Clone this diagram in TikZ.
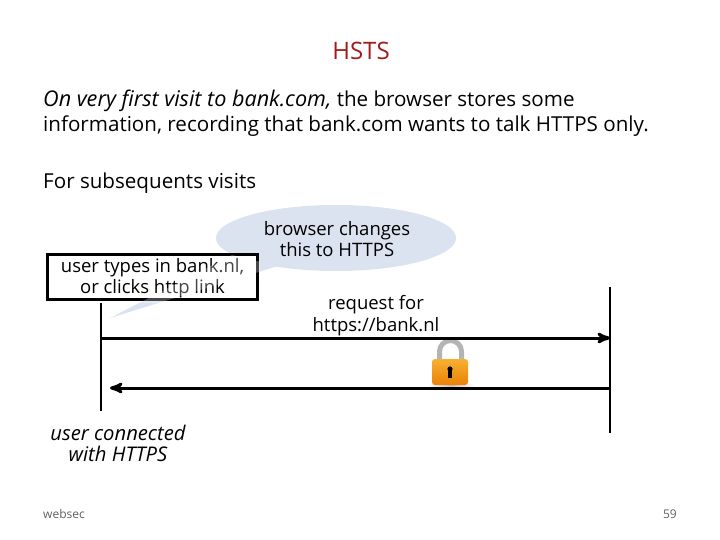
\documentclass[tikz,border=0pt]{standalone}
\usepackage{fontspec}
\setmainfont{Open Sans}
\usepackage{tikz}
\usetikzlibrary{arrows,positioning,calc,shapes.geometric}
\definecolor{titlered}{HTML}{A01C1C}
\definecolor{bubbleblue}{HTML}{DCE3F0}
\definecolor{footgray}{HTML}{5F5F5F}
\definecolor{lockgray}{HTML}{B4B4B4}
\definecolor{locktop}{HTML}{F8B030}
\definecolor{lockbot}{HTML}{E98208}

\begin{document}
\begin{tikzpicture}[x=1pt,y=-1pt,>=stealth',
                    txt/.style={inner sep=0pt,font=\fontsize{18.5}{21}\selectfont,align=center},
                    body/.style={inner sep=0pt,anchor=base west,font=\fontsize{20.6}{23}\selectfont},
                    foot/.style={inner sep=0pt,text=footgray,font=\fontsize{12}{14}\selectfont},
                    lifeline/.style={line width=2.8pt},
                    msg/.style={line width=3pt,->}]
  \useasboundingbox (0,0) rectangle (720,540);

  \node[inner sep=0pt,text=titlered,font=\fontsize{24}{28}\selectfont] (title) at (361,51) {HSTS};
  \node[body] (first) at (43,107) {{\fontsize{21.6}{23}\selectfont\itshape On very first visit to bank.com,} the browser stores some};
  \node[body] (info) at (43,131.5) {information, recording that bank.com wants to talk HTTPS only.};
  \node[body] (subseq) at (43,189) {For subsequents visits};

  % speech bubble, then the box over it
  \node[ellipse,minimum width=240pt,minimum height=66pt,inner sep=0pt,fill=bubbleblue] (bubble) at (336,238) {};
  \coordinate (tip) at (110,318);
  \coordinate (tailr) at (278,266);
  \coordinate (taill) at (232,255);
  \fill[bubbleblue] (tip) -- (tailr) -- (taill) -- cycle;
  \node[draw,line width=2.8pt,minimum width=210pt,minimum height=45pt,inner sep=0pt,fill=white] (usr) at (152.5,277) {};
  \node[txt] (usrtxt) at (152.5,278.5) {user types in bank.nl,\\or clicks http link};
  \begin{scope}
    \clip (45,252) rectangle (260,302);
    \fill[white,opacity=0.28] (tip) -- (tailr) -- (taill) -- cycle;
  \end{scope}
  \node[txt] (bubtxt) at (337,239) {browser changes\\this to HTTPS};
  \node[txt,font=\fontsize{18.5}{22}\selectfont] (req) at (376,315.5) {request for\\https://bank.nl};
  \node[txt,font=\fontsize{20.2}{21.5}\selectfont\itshape] (conn) at (118,443.5) {user connected\\with HTTPS};

  % client and server lines
  \coordinate (ctop) at (101,303);
  \coordinate (cbot) at (101,411);
  \coordinate (stop) at (610,287);
  \coordinate (sbot) at (610,433);
  \draw[lifeline] (ctop) -- (cbot);
  \draw[lifeline] (stop) -- (sbot);

  % lock
  \shade[left color=white,right color=white,middle color=gray!45] (428,384) rectangle (474,388);
  \draw[line width=5pt,lockgray] (439.5,362) -- (439.5,351.5) arc[start angle=180,end angle=0,radius=11pt] -- (461.5,362);
  \node[rounded corners=3pt,minimum width=36pt,minimum height=26pt,inner sep=0pt,
        top color=locktop,bottom color=lockbot] (lockbody) at (450,372) {};
  \fill[black] (450,369) circle (2.6pt);
  \fill[black] (448.4,370) rectangle (451.6,378);

  \draw[msg] (101,338) coordinate (c1) -- (c1 -| stop);
  \draw[msg] (610,388) coordinate (s1) -- (110,388) coordinate (c2);

  \node[foot,anchor=west] (src) at (43,514) {websec};
  \node[foot,anchor=east] (page) at (677,514) {59};
\end{tikzpicture}
\end{document}
